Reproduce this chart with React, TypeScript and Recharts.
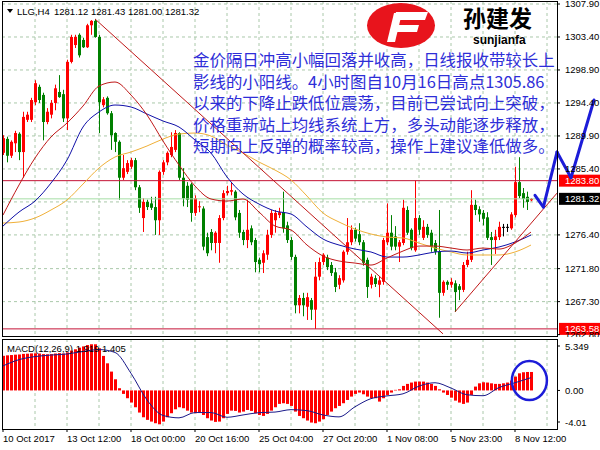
import React from 'react';
import { ComposedChart, Bar, Line, XAxis, YAxis, CartesianGrid, ReferenceLine, ReferenceDot } from 'recharts';

const FONT = "'Liberation Sans', Arial, sans-serif";
const CJK = "'Noto Sans CJK SC', sans-serif";

// ---- H4 candles (LLG), bar index 0..132 ----
const opens = [1287.6,1289.5,1287.2,1288.9,1290.2,1287.7,1292.1,1292.1,1294.5,1296.6,1295.5,1291.8,1292.8,1294.4,1295.9,1295.6,1292.3,1300.0,1302.3,1303.7,1303.0,1302.0,1305.0,1305.6,1303.4,1294.1,1295.1,1293.0,1290.3,1289.1,1284.2,1285.0,1285.7,1286.6,1282.9,1278.7,1280.9,1280.7,1280.2,1278.4,1285.0,1286.3,1287.3,1288.0,1290.3,1284.2,1283.1,1283.3,1279.4,1280.2,1280.0,1276.1,1276.8,1275.3,1275.3,1278.7,1282.1,1282.3,1282.3,1279.4,1276.8,1275.7,1277.3,1275.7,1273.0,1272.6,1273.7,1276.4,1278.4,1279.1,1279.5,1277.7,1275.7,1273.4,1266.8,1267.8,1266.6,1267.5,1266.2,1270.7,1272.7,1273.3,1272.3,1271.3,1269.6,1270.2,1274.1,1275.4,1277.1,1276.5,1275.4,1273.0,1269.6,1270.5,1269.6,1270.0,1275.4,1276.7,1276.2,1274.8,1275.3,1279.8,1277.1,1274.3,1278.7,1276.0,1277.5,1276.7,1275.3,1274.1,1268.5,1270.0,1269.6,1269.8,1269.4,1268.9,1272.3,1273.0,1280.5,1279.9,1279.4,1278.8,1276.1,1275.7,1276.1,1277.5,1277.5,1277.3,1279.1,1283.6,1282.1,1281.6,1281.12];
const highs = [1290.0,1289.8,1289.3,1290.6,1290.4,1293.2,1293.2,1295.1,1297.5,1296.9,1295.8,1293.7,1294.8,1296.9,1298.2,1296.2,1300.3,1303.7,1303.7,1303.9,1303.3,1305.2,1305.7,1305.86,1303.7,1295.2,1295.3,1293.3,1290.4,1289.3,1287.3,1286.6,1286.9,1286.9,1283.2,1281.4,1281.2,1281.6,1281.6,1285.2,1286.6,1287.8,1290.4,1290.7,1290.4,1285.5,1283.6,1283.5,1281.8,1281.0,1280.3,1276.7,1277.2,1276.9,1279.1,1282.5,1283.1,1283.5,1282.5,1279.8,1277.1,1281.2,1277.7,1276.0,1273.3,1274.3,1277.1,1279.8,1279.8,1280.1,1282.3,1278.2,1276.1,1273.7,1268.2,1268.5,1268.5,1267.8,1272.7,1273.3,1273.9,1273.7,1272.7,1271.9,1270.9,1274.3,1278.7,1277.7,1277.4,1278.0,1275.7,1273.3,1271.1,1270.9,1270.7,1276.0,1280.7,1279.1,1277.6,1275.7,1281.2,1280.3,1277.3,1283.8,1279.1,1278.4,1277.9,1277.1,1275.7,1279.8,1270.2,1270.2,1270.5,1270.2,1269.7,1272.7,1274.1,1282.5,1281.2,1280.3,1279.8,1279.5,1276.8,1277.1,1278.2,1277.9,1277.9,1279.5,1285.7,1287.0,1282.8,1282.3,1281.43];
const lows = [1287.3,1286.3,1286.9,1287.7,1286.6,1284.2,1291.8,1291.8,1294.1,1294.4,1289.3,1291.5,1292.3,1293.4,1295.1,1291.8,1290.7,1299.8,1301.9,1300.6,1301.9,1301.9,1303.7,1303.3,1290.3,1293.8,1292.8,1288.0,1287.7,1281.2,1283.9,1284.7,1285.4,1282.5,1279.4,1276.8,1279.8,1279.8,1276.4,1276.4,1284.6,1285.9,1287.0,1287.7,1283.9,1280.3,1280.2,1278.2,1279.0,1279.5,1274.3,1273.5,1274.3,1273.9,1272.6,1278.4,1281.8,1281.8,1278.4,1276.0,1275.0,1274.6,1275.0,1271.3,1271.3,1271.2,1273.0,1276.0,1276.7,1278.7,1276.7,1275.3,1273.0,1265.7,1265.7,1265.3,1264.8,1264.8,1263.58,1270.2,1272.3,1271.6,1270.8,1268.6,1269.0,1269.9,1273.7,1275.0,1275.5,1275.0,1272.2,1267.8,1269.1,1269.3,1267.9,1269.6,1275.0,1274.3,1274.3,1272.7,1275.0,1276.4,1274.3,1274.1,1276.4,1275.7,1276.0,1274.1,1273.7,1265.1,1268.1,1268.9,1269.2,1265.9,1267.5,1268.6,1272.0,1272.7,1279.1,1278.2,1277.7,1275.7,1272.3,1273.8,1275.7,1276.2,1276.8,1277.1,1278.8,1281.4,1280.1,1279.8,1281.00];
const closes = [1289.6,1287.2,1289.1,1290.3,1287.7,1292.5,1292.8,1294.8,1297.1,1294.8,1291.8,1293.2,1294.4,1296.4,1295.2,1292.3,1300.0,1303.4,1303.4,1300.9,1302.0,1305.0,1305.6,1303.4,1294.5,1294.9,1293.0,1290.0,1289.1,1284.2,1285.5,1286.2,1286.6,1282.9,1280.1,1280.9,1280.2,1280.1,1278.4,1285.0,1286.3,1287.6,1288.4,1290.3,1284.2,1281.4,1281.2,1279.4,1281.4,1280.3,1274.8,1273.9,1275.3,1276.7,1278.7,1282.1,1282.4,1282.5,1278.8,1276.7,1275.7,1277.1,1275.4,1272.7,1272.4,1273.9,1276.4,1279.4,1279.4,1279.5,1277.3,1275.7,1273.4,1266.8,1267.8,1266.8,1267.9,1266.2,1270.7,1272.7,1273.7,1272.0,1271.2,1269.3,1270.5,1274.1,1275.4,1277.1,1275.9,1275.4,1272.6,1269.3,1270.7,1269.7,1270.2,1275.7,1276.7,1274.8,1274.8,1275.4,1280.1,1276.7,1274.6,1278.7,1277.1,1277.5,1276.4,1274.8,1274.1,1268.5,1270.0,1269.6,1270.0,1268.6,1268.9,1272.3,1273.0,1280.5,1279.8,1279.2,1278.6,1276.0,1275.7,1276.2,1277.5,1277.5,1277.5,1279.2,1283.6,1281.7,1281.3,1280.9,1281.32];

// ---- moving averages, read every 4th bar ----
const maRed = [1279.11,1283.21,1286.89,1289.76,1291.66,1293.98,1296.71,1297.26,1295.48,1292.76,1289.21,1285.93,1283.07,1281.30,1281.02,1281.30,1279.52,1277.61,1277.07,1275.02,1273.52,1272.84,1272.56,1272.29,1273.25,1274.20,1274.88,1274.88,1274.61,1274.34,1274.61,1274.47,1275.29,1276.79];
const maBlue = [1277.61,1279.52,1281.02,1283.48,1286.62,1291.12,1293.17,1294.12,1293.85,1292.89,1291.94,1291.12,1289.35,1287.57,1284.30,1281.98,1280.61,1279.66,1279.25,1277.48,1275.84,1275.02,1274.47,1274.07,1273.38,1273.38,1273.66,1274.07,1274.20,1273.93,1274.34,1274.75,1275.43,1276.38];
const maOrange = [1278.02,1278.16,1278.71,1279.80,1281.16,1283.34,1285.53,1287.03,1287.71,1288.53,1289.48,1290.16,1290.30,1289.89,1288.66,1287.57,1286.34,1285.25,1283.90,1281.70,1279.39,1278.16,1277.20,1276.52,1276.11,1275.98,1275.29,1274.61,1274.07,1273.66,1273.66,1273.66,1274.07,1275.02];

// ---- MACD(12,26,9) ----
const macdHist = [3.60,3.65,3.68,3.72,3.74,3.80,3.82,3.85,3.86,3.84,3.78,3.76,3.78,3.84,3.88,3.84,3.96,4.14,4.28,4.45,4.58,4.72,4.80,4.80,4.38,3.59,2.82,1.96,1.16,0.23,-0.36,-0.81,-1.26,-1.75,-2.30,-2.79,-3.06,-3.24,-3.41,-3.52,-3.24,-2.79,-2.37,-1.96,-1.75,-1.85,-2.10,-2.30,-2.37,-2.30,-2.55,-2.89,-3.13,-3.27,-3.24,-2.89,-2.44,-2.10,-2.13,-2.30,-2.20,-2.03,-2.13,-2.37,-2.55,-2.65,-2.44,-2.10,-1.75,-1.40,-1.33,-1.40,-1.61,-2.20,-2.65,-2.89,-3.13,-3.34,-3.41,-3.24,-2.99,-2.55,-2.20,-1.85,-1.61,-1.33,-0.99,-0.64,-0.36,-0.22,-0.40,-0.64,-0.81,-0.81,-1.16,-0.81,-0.47,-0.22,0.06,0.12,0.47,0.68,0.82,0.92,0.92,0.92,0.82,0.68,0.47,0.12,-0.22,-0.47,-0.75,-1.06,-1.26,-1.40,-1.26,-0.47,0.40,0.74,0.85,0.82,0.74,0.68,0.68,0.74,0.82,1.03,1.44,1.78,1.89,1.92,1.92];
const macdSignal = [2.55,3.2,3.52,3.68,3.79,4.05,4.25,3.95,1.78,-0.99,-2.6,-2.85,-2.3,-2.3,-2.79,-2.55,-2.31,-2.25,-2.0,-2.1,-2.55,-2.75,-1.7,-0.85,-0.57,-0.35,0.45,0.8,0.25,-0.45,-0.55,0.3,0.8,1.33];

// ---- axes ----
const timeTickIdx = [0,16,32,48,64,80,96,112,128];
const timeLabels = ['10 Oct 2017','13 Oct 12:00','18 Oct 00:00','20 Oct 16:00','25 Oct 04:00','27 Oct 20:00','1 Nov 08:00','5 Nov 23:00','8 Nov 12:00'];
const gridIdx = [8,16,24,32,40,48,56,64,72,80,88,96,104,112,120,128,136];
const priceTicks = [1307.9,1303.4,1298.9,1294.4,1289.9,1285.4,1276.4,1271.8,1267.3,1262.8];
const priceGrid = [1307.9,1303.4,1298.9,1294.4,1289.9,1285.4,1280.9,1276.4,1271.8,1267.3];
const macdTicks = [5.349,0,-4.01];
const macdTickLabels = ['5.349','0.00','-4.01'];

// ---- drawn objects ----
const levelPrices = [1283.8,1281.32,1263.58];
const levelLabels = ['1283.80','1281.32','1263.58'];
const resistanceLine = [[23,1305.86],[110,1262.9]];
const supportLine = [[113,1265.9],[138.5,1282.1]];
const arrowPath = [[133,1281.8],[135.1,1280.2],[138.5,1287.7],[142,1284.2],[147.75,1294.8]];
const circleAt = [131.6,1.03];

const headerSymbol = 'LLG,H4';
const headerPrices = '1281.12 1281.43 1281.00 1281.32';
const macdLabel = 'MACD(12,26,9) 1.919 1.405';
const commentLines = [
  '金价隔日冲高小幅回落并收高，日线报收带较长上',
  '影线的小阳线。4小时图自10月16日高点1305.86',
  '以来的下降止跌低位震荡，目前已尝试向上突破，',
  '价格重新站上均线系统上方，多头动能逐步释放，',
  '短期向上反弹的概率较高，操作上建议逢低做多。',
];

const rows = opens.map((o, i) => ({
  i,
  o,
  h: highs[i],
  l: lows[i],
  c: closes[i],
  range: [lows[i], highs[i]],
  hist: macdHist[i],
  maR: i % 4 === 0 ? maRed[i / 4] : null,
  maB: i % 4 === 0 ? maBlue[i / 4] : null,
  maO: i % 4 === 0 ? maOrange[i / 4] : null,
  sig: i % 4 === 0 ? macdSignal[i / 4] : null,
}));

const X_DOMAIN: [number, number] = [-0.25, 138.5];
const GRID = '#aac8aa';
const BLUE = '#1c1cd8';

const Candle = (p: any) => {
  const { x, y, width, height, payload } = p;
  if (x == null || !payload) return null;
  const { o, h, l, c } = payload;
  const top0 = Math.min(y, y + height);
  const hh = Math.abs(height);
  const cx = Math.round(x + width / 2);
  const k = hh / (h - l);
  const bTop = top0 + (h - Math.max(o, c)) * k;
  const bBot = top0 + (h - Math.min(o, c)) * k;
  const color = c > o ? '#ff0000' : c < o ? '#008000' : '#000000';
  return (
    <g>
      <line x1={cx + 0.5} x2={cx + 0.5} y1={top0} y2={top0 + hh} stroke={color} strokeWidth={1} />
      <rect x={cx - 1} y={bTop} width={3} height={Math.max(bBot - bTop, 1)} fill={color} />
    </g>
  );
};

const HistBar = (p: any) => {
  const { x, y, width, height } = p;
  if (x == null) return null;
  const cx = Math.round(x + width / 2);
  const t = Math.min(y, y + height);
  return <rect x={cx - 1} y={t} width={3} height={Math.abs(height)} fill="#ff0000" />;
};

const PriceTag = (props: any) => {
  const { viewBox, text, bg } = props;
  if (!viewBox) return null;
  const x = viewBox.x + viewBox.width + 2;
  const y = viewBox.y;
  return (
    <g>
      <rect x={x} y={y - 6} width={43} height={12} fill={bg} />
      <text x={x + 6} y={y + 3.5} fontSize={9.5} fill="#fff" fontFamily={FONT}>{text}</text>
    </g>
  );
};

const TimeTick = (p: any) => {
  const { x, y, payload } = p;
  const k = timeTickIdx.indexOf(payload.value);
  return (
    <text x={x} y={y + 10} fontSize={9.5} fill="#000" fontFamily={FONT}>{timeLabels[k]}</text>
  );
};

const MacdTick = (p: any) => {
  const { x, y, payload } = p;
  const k = macdTicks.indexOf(payload.value);
  const v = payload.value;
  const dy = v > 0 ? 7 : v < 0 ? -7 : 0;
  return (
    <g>
      <line x1={557} x2={560} y1={y + dy} y2={y + dy} stroke="#000" />
      <text x={x + 3} y={y + dy + 3.5} fontSize={9.5} fill="#000" fontFamily={FONT}>{macdTickLabels[k]}</text>
    </g>
  );
};

const levelStyles = [
  { line: '#c41235', tag: '#ff0000' },
  { line: '#a6dea6', tag: '#000000' },
  { line: '#c41235', tag: '#ff0000' },
];

export default function App() {
  return (
    <div style={{ position: 'absolute', left: 0, top: 0, width: 600, height: 450, background: '#fff', overflow: 'hidden' }}>
      <div style={{ position: 'absolute', left: 0, top: 0 }}>
        <ComposedChart width={600} height={337} data={rows} margin={{ top: 1, right: 0, bottom: 1, left: 2 }}>
          <CartesianGrid stroke={GRID} strokeDasharray="3 3" horizontalValues={priceGrid} verticalValues={gridIdx} />
          <XAxis type="number" dataKey="i" domain={X_DOMAIN} allowDataOverflow hide />
          <YAxis
            orientation="right"
            width={43}
            type="number"
            domain={[1262.61, 1308.31]}
            allowDataOverflow
            ticks={priceTicks}
            interval={0}
            tickFormatter={(v: number) => v.toFixed(2)}
            tick={{ fontSize: 9.5, fill: '#000', fontFamily: FONT }}
            tickSize={3}
            tickMargin={5}
            tickLine={{ stroke: '#000' }}
            axisLine={false}
          />
          {levelPrices.map((p, k) => (
            <ReferenceLine key={'lv' + k} y={p} stroke={levelStyles[k].line} strokeWidth={1} />
          ))}
          <Bar dataKey="range" barSize={3} isAnimationActive={false} shape={(p: any) => <Candle {...p} />} />
          <Line dataKey="maO" stroke="#f0b038" strokeWidth={1} dot={false} connectNulls type="monotone" isAnimationActive={false} />
          <Line dataKey="maB" stroke="#1010a8" strokeWidth={1} dot={false} connectNulls type="monotone" isAnimationActive={false} />
          <Line dataKey="maR" stroke="#c01818" strokeWidth={1} dot={false} connectNulls type="monotone" isAnimationActive={false} />
          <ReferenceLine
            segment={[{ x: resistanceLine[0][0], y: resistanceLine[0][1] }, { x: resistanceLine[1][0], y: resistanceLine[1][1] }]}
            stroke="#c01818"
            strokeWidth={1}
            ifOverflow="visible"
          />
          <ReferenceLine
            segment={[{ x: supportLine[0][0], y: supportLine[0][1] }, { x: supportLine[1][0], y: supportLine[1][1] }]}
            stroke="#c01818"
            strokeWidth={1}
            ifOverflow="visible"
          />
          {levelPrices.map((p, k) => (
            <ReferenceLine
              key={'tag' + k}
              y={p}
              stroke="none"
              label={(lp: any) => <PriceTag viewBox={lp.viewBox} text={levelLabels[k]} bg={levelStyles[k].tag} />}
            />
          ))}
          {arrowPath.slice(1).map((pt, k) => (
            <ReferenceLine
              key={'ar' + k}
              segment={[{ x: arrowPath[k][0], y: arrowPath[k][1] }, { x: pt[0], y: pt[1] }]}
              stroke={BLUE}
              strokeWidth={3}
              strokeLinecap="round"
              ifOverflow="visible"
            />
          ))}
        </ComposedChart>
      </div>
      <div style={{ position: 'absolute', left: 0, top: 337 }}>
        <ComposedChart width={600} height={113} data={rows} margin={{ top: 2, right: 0, bottom: 0, left: 2 }}>
          <CartesianGrid stroke={GRID} strokeDasharray="3 3" horizontal={false} verticalValues={gridIdx} />
          <XAxis
            type="number"
            dataKey="i"
            domain={X_DOMAIN}
            allowDataOverflow
            ticks={timeTickIdx}
            interval={0}
            height={21}
            tickSize={3}
            tickMargin={0}
            tick={(p: any) => <TimeTick {...p} />}
            tickLine={{ stroke: '#000' }}
            axisLine={false}
          />
          <YAxis
            orientation="right"
            width={43}
            type="number"
            domain={[-4.01, 5.349]}
            allowDataOverflow
            ticks={macdTicks}
            interval={0}
            tickSize={3}
            tickMargin={2}
            tickLine={false}
            axisLine={false}
            tick={(p: any) => <MacdTick {...p} />}
          />
          <Bar dataKey="hist" barSize={3} isAnimationActive={false} shape={(p: any) => <HistBar {...p} />} />
          <Line dataKey="sig" stroke="#1a1a8a" strokeWidth={1} dot={false} connectNulls type="monotone" isAnimationActive={false} />
          <ReferenceDot
            x={circleAt[0]}
            y={circleAt[1]}
            r={18}
            ifOverflow="visible"
            shape={(p: any) => (
              <ellipse cx={p.cx} cy={p.cy} rx={17.5} ry={19.5} fill="none" stroke={BLUE} strokeWidth={2.5} />
            )}
          />
        </ComposedChart>
      </div>
      <svg width={600} height={450} style={{ position: 'absolute', left: 0, top: 0, pointerEvents: 'none' }}>
        <rect x={2.5} y={1.5} width={555} height={335} fill="none" stroke="#000" />
        <rect x={2.5} y={339.5} width={555} height={90} fill="none" stroke="#000" />
        <polygon points="7,9 13,9 10,13" fill="#000" />
        <text x={17} y={15} fontSize={9.5} fontFamily={FONT} fill="#000">{headerSymbol}</text>
        <text x={54} y={15} fontSize={9.5} fontFamily={FONT} fill="#000">{headerPrices}</text>
        <text x={7} y={352} fontSize={9.5} fontFamily={FONT} fill="#000">{macdLabel}</text>
        <ellipse cx={401} cy={25.5} rx={34} ry={22.5} fill="#e8141c" />
        <polygon points="394,13 402,13 395,42 387,42" fill="#fff" />
        <polygon points="396,12 428,12 425,20 394,20" fill="#fff" />
        <polygon points="393,25 419,25 417,32 391,32" fill="#fff" />
        <text x={463} y={27} fontSize={23} fontWeight={700} fontFamily={CJK} fill="#000">孙建发</text>
        <text x={473} y={44} fontSize={12} fontWeight={700} fontFamily={FONT} fill="#000">sunjianfa</text>
        {commentLines.map((s, k) => (
          <text key={k} x={193} y={66 + k * 21.5} fontSize={16.45} fontFamily={CJK} fill="#2e2ed8">{s}</text>
        ))}
      </svg>
    </div>
  );
}
